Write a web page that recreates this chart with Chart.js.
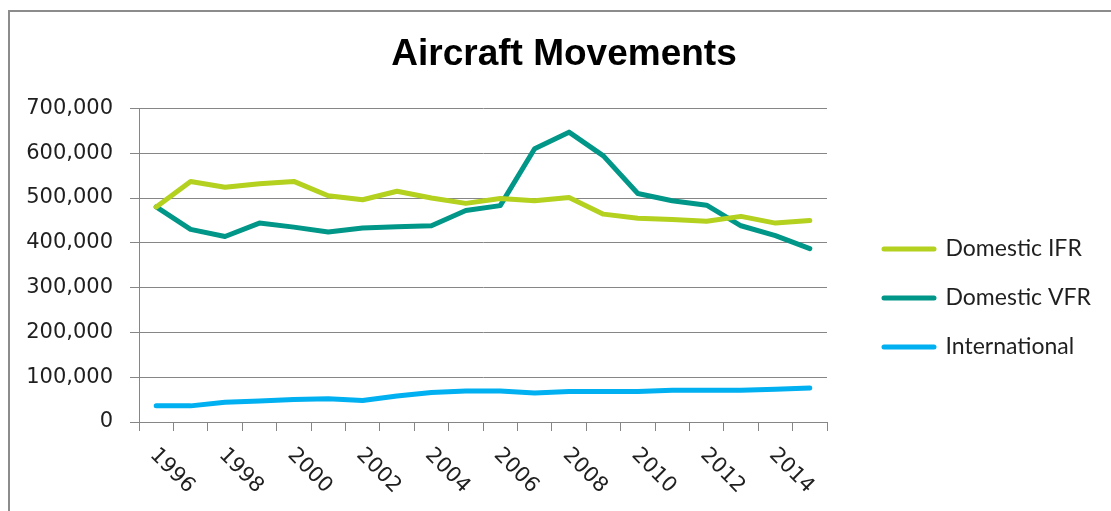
<!DOCTYPE html>
<html lang="en">
<head>
<meta charset="UTF-8">
<title>Aircraft Movements</title>
<script src="https://cdn.jsdelivr.net/npm/chart.js"></script>
<style>
    html, body {
        margin: 0;
        padding: 0;
        background: #fff;
        overflow: hidden;
    }
    body {
        width: 1111px;
        height: 511px;
        position: relative;
    }
    .frame {
        position: absolute;
        left: 8px;
        top: 10px;
        width: 1200px;
        height: 600px;
        border: 2px solid #8c8c8c;
        box-sizing: border-box;
    }
    #chart {
        position: absolute;
        left: 0;
        top: 0;
    }
</style>
</head>
<body>
<div class="frame"></div>
<canvas id="chart" width="1128" height="511"></canvas>
<script>
var years = ['1996', '1997', '1998', '1999', '2000', '2001', '2002', '2003', '2004', '2005',
             '2006', '2007', '2008', '2009', '2010', '2011', '2012', '2013', '2014', '2015'];
var xTickLabels = ['1996', '1998', '2000', '2002', '2004', '2006', '2008', '2010', '2012', '2014'];
var yTicks = [0, 100000, 200000, 300000, 400000, 500000, 600000, 700000];

var domesticIFR = [480000, 537000, 524000, 532000, 537000, 505000, 496000, 515000, 500000, 488000,
                   499000, 494000, 501000, 464000, 455000, 452000, 448000, 459000, 444000, 450000];
var domesticVFR = [480000, 430000, 414000, 444000, 435000, 424000, 433000, 436000, 438000, 472000,
                   483000, 610000, 647000, 594000, 510000, 494000, 484000, 438000, 416000, 387000];
var international = [36000, 36000, 44000, 47000, 50000, 52000, 48000, 58000, 66000, 69000,
                     69000, 65000, 68000, 68000, 68000, 71000, 71000, 71000, 73000, 76000];

var gridColor = '#868686';
var textColor = '#1f1f1f';

// x labels run down to the right (clockwise), which the category scale can't do itself
var xLabelPlugin = {
    id: 'xLabels',
    afterDraw: function(chart) {
        var ctx = chart.ctx;
        var xs = chart.scales.x;
        ctx.save();
        ctx.font = '21px "DejaVu Sans"';
        ctx.fillStyle = textColor;
        ctx.textAlign = 'left';
        ctx.textBaseline = 'middle';
        xTickLabels.forEach(function(lbl) {
            var x = xs.getPixelForValue(years.indexOf(lbl));
            ctx.save();
            ctx.translate(x - 3, xs.top + 30);
            ctx.rotate(Math.PI / 4);
            ctx.fillText(lbl, 0, 0);
            ctx.restore();
        });
        ctx.restore();
    }
};

// fixed legend width so the plot keeps its right edge
var legendWidthPlugin = {
    id: 'legendWidth',
    beforeLayout: function(chart) {
        var lg = chart.legend;
        if (lg && !lg._fixedWidth) {
            var fit = lg.fit;
            lg.fit = function() {
                fit.call(this);
                this.width = 270;
            };
            lg._fixedWidth = true;
        }
    }
};

function lineSet(label, data, color) {
    return {
        label: label,
        data: data,
        borderColor: color,
        backgroundColor: 'rgba(0,0,0,0)',
        borderWidth: 5,
        pointRadius: 0,
        tension: 0,
        borderCapStyle: 'round',
        borderJoinStyle: 'round'
    };
}

var ctx = document.getElementById('chart').getContext('2d');
var chart = new Chart(ctx, {
    type: 'line',
    data: {
        labels: years,
        datasets: [
            lineSet('Domestic IFR', domesticIFR, '#b3d11e'),
            lineSet('Domestic VFR', domesticVFR, '#009688'),
            lineSet('International', international, '#00b0f0')
        ]
    },
    options: {
        responsive: false,
        animation: false,
        events: [],
        layout: { padding: 0 },
        scales: {
            x: {
                type: 'category',
                offset: true,
                grid: {
                    offset: true,
                    drawOnChartArea: false,
                    drawTicks: true,
                    tickLength: 9,
                    color: gridColor
                },
                border: { color: gridColor },
                ticks: { display: false, autoSkip: false },
                afterFit: function(s) { s.height = 89; }
            },
            y: {
                position: 'left',
                min: 0,
                max: 700000,
                afterBuildTicks: function(s) {
                    s.ticks = yTicks.map(function(v) { return { value: v }; });
                },
                ticks: {
                    padding: 17,
                    color: textColor,
                    font: { family: 'DejaVu Sans', size: 21 },
                    callback: function(v) { return v.toLocaleString('en-US'); }
                },
                grid: { color: gridColor, lineWidth: 1, tickLength: 9 },
                border: { color: gridColor, width: 1 },
                afterFit: function(s) { s.width = 139; }
            },
            gap: {
                type: 'linear',
                position: 'right',
                grid: { display: false },
                border: { display: false },
                ticks: { display: false },
                afterFit: function(s) { s.width = 31; }
            }
        },
        plugins: {
            title: {
                display: true,
                text: 'Aircraft Movements',
                color: '#000',
                font: { family: 'Liberation Sans', size: 37, weight: 'bold' },
                padding: { top: 33, bottom: 31 }
            },
            legend: {
                position: 'right',
                align: 'center',
                title: {
                    display: true,
                    text: '',
                    font: { size: 10, lineHeight: 1 },
                    padding: { top: 0, bottom: 75 }
                },
                labels: {
                    boxWidth: 50,
                    boxHeight: 0,
                    padding: 26,
                    color: textColor,
                    font: { family: 'Lato', size: 23 }
                }
            },
            tooltip: { enabled: false }
        }
    },
    plugins: [xLabelPlugin, legendWidthPlugin]
});
</script>
</body>
</html>
